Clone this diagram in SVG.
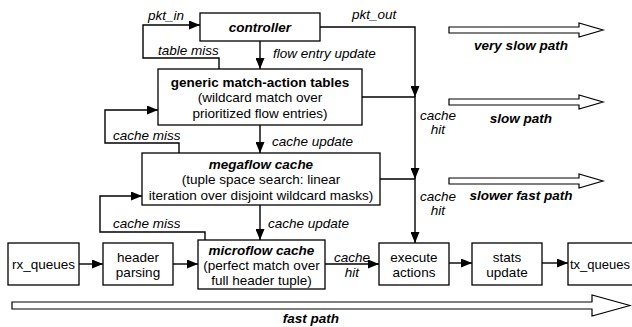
<svg xmlns="http://www.w3.org/2000/svg" width="632" height="327" viewBox="0 0 632 327">
<style>
text{font-family:"Liberation Sans",Arial,sans-serif;font-size:13.5px;fill:#000}
.b{font-weight:bold}
.bi{font-weight:bold;font-style:italic}
.i{font-style:italic}
.m{text-anchor:middle}
.box{fill:#fff;stroke:#000;stroke-width:1.3}
.ln{fill:none;stroke:#000;stroke-width:1.4}
.big{fill:#fff;stroke:#000;stroke-width:1.2}
</style>
<defs>
<marker id="ah" markerUnits="userSpaceOnUse" markerWidth="11" markerHeight="9" refX="11" refY="4.5" orient="auto">
<path d="M0,0 L11,4.5 L0,9 z" fill="#000"/>
</marker>
</defs>

<g id="paths">
<polygon class="big" points="449,27 579,27 579,23 603,30 579,37 579,33 449,33"/>
<text class="bi m" x="521" y="50">very slow path</text>
<polygon class="big" points="449,99 579,99 579,95 603,102 579,109 579,105 449,105"/>
<text class="bi m" x="521" y="123">slow path</text>
<polygon class="big" points="449,178 579,178 579,174 603,181 579,188 579,184 449,184"/>
<text class="bi m" x="521" y="200">slower fast path</text>
<polygon class="big" points="12,302 592,302 592,295 630,305.5 592,316 592,309 12,309"/>
<text class="bi m" x="311" y="323">fast path</text>
</g>

<g id="connectors">
<path class="ln" d="M219,69 V58 H143 V25 H200" marker-end="url(#ah)"/>
<path class="ln" d="M260,41 V69" marker-end="url(#ah)"/>
<path class="ln" d="M320,27 H415 V97" marker-end="url(#ah)"/>
<path class="ln" d="M362,97 H415 V179" marker-end="url(#ah)"/>
<path class="ln" d="M380,179 H415 V243" marker-end="url(#ah)"/>
<path class="ln" d="M179,153 V143 H105 V110 H158" marker-end="url(#ah)"/>
<path class="ln" d="M260,125 V153" marker-end="url(#ah)"/>
<path class="ln" d="M205,240 V232 H100 V196 H142" marker-end="url(#ah)"/>
<path class="ln" d="M260,205 V240" marker-end="url(#ah)"/>
<path class="ln" d="M79,264 H103" marker-end="url(#ah)"/>
<path class="ln" d="M173,264 H198" marker-end="url(#ah)"/>
<path class="ln" d="M325,264 H379" marker-end="url(#ah)"/>
<path class="ln" d="M449,263 H472" marker-end="url(#ah)"/>
<path class="ln" d="M542,263 H568" marker-end="url(#ah)"/>
<text class="i" x="148" y="20">pkt_in</text>
<text class="i" x="158" y="55">table miss</text>
<text class="i" x="273" y="58">flow entry update</text>
<text class="i" x="352" y="19">pkt_out</text>
<text class="i m" x="438" y="120">cache</text>
<text class="i m" x="438" y="134">hit</text>
<text class="i m" x="438" y="201">cache</text>
<text class="i m" x="438" y="215">hit</text>
<text class="i" x="113" y="140">cache miss</text>
<text class="i" x="272" y="146">cache update</text>
<text class="i" x="113" y="228">cache miss</text>
<text class="i" x="268" y="228">cache update</text>
<text class="i m" x="352" y="262">cache</text>
<text class="i m" x="352" y="277">hit</text>
</g>

<g id="controller">
<rect class="box" x="200" y="13" width="120" height="28"/>
<text class="bi m" x="260" y="32">controller</text>
</g>
<g id="generic">
<rect class="box" x="158" y="69" width="204" height="56"/>
<text class="b m" x="260" y="87">generic match-action tables</text>
<text class="m" x="260" y="102">(wildcard match over</text>
<text class="m" x="260" y="118">prioritized flow entries)</text>
</g>
<g id="megaflow">
<rect class="box" x="142" y="153" width="238" height="52"/>
<text class="bi m" x="261" y="169">megaflow cache</text>
<text class="m" x="261" y="184">(tuple space search: linear</text>
<text class="m" x="261" y="200">iteration over disjoint wildcard masks)</text>
</g>
<g id="microflow">
<rect class="box" x="198" y="240" width="127" height="49"/>
<text class="bi m" x="261.5" y="255">microflow cache</text>
<text class="m" x="261.5" y="270">(perfect match over</text>
<text class="m" x="261.5" y="285">full header tuple)</text>
</g>
<g id="rx">
<rect class="box" x="8" y="243" width="71" height="42"/>
<text class="m" x="43.5" y="269">rx_queues</text>
</g>
<g id="header">
<rect class="box" x="103" y="243" width="70" height="42"/>
<text class="m" x="138" y="262">header</text>
<text class="m" x="138" y="277">parsing</text>
</g>
<g id="execute">
<rect class="box" x="379" y="243" width="70" height="42"/>
<text class="m" x="414" y="262">execute</text>
<text class="m" x="414" y="277">actions</text>
</g>
<g id="stats">
<rect class="box" x="472" y="243" width="70" height="42"/>
<text class="m" x="507" y="262">stats</text>
<text class="m" x="507" y="277">update</text>
</g>
<g id="tx">
<rect class="box" x="568" y="243" width="80" height="42"/>
<text x="570" y="269" style="font-size:13px">tx_queues</text>
</g>
</svg>
